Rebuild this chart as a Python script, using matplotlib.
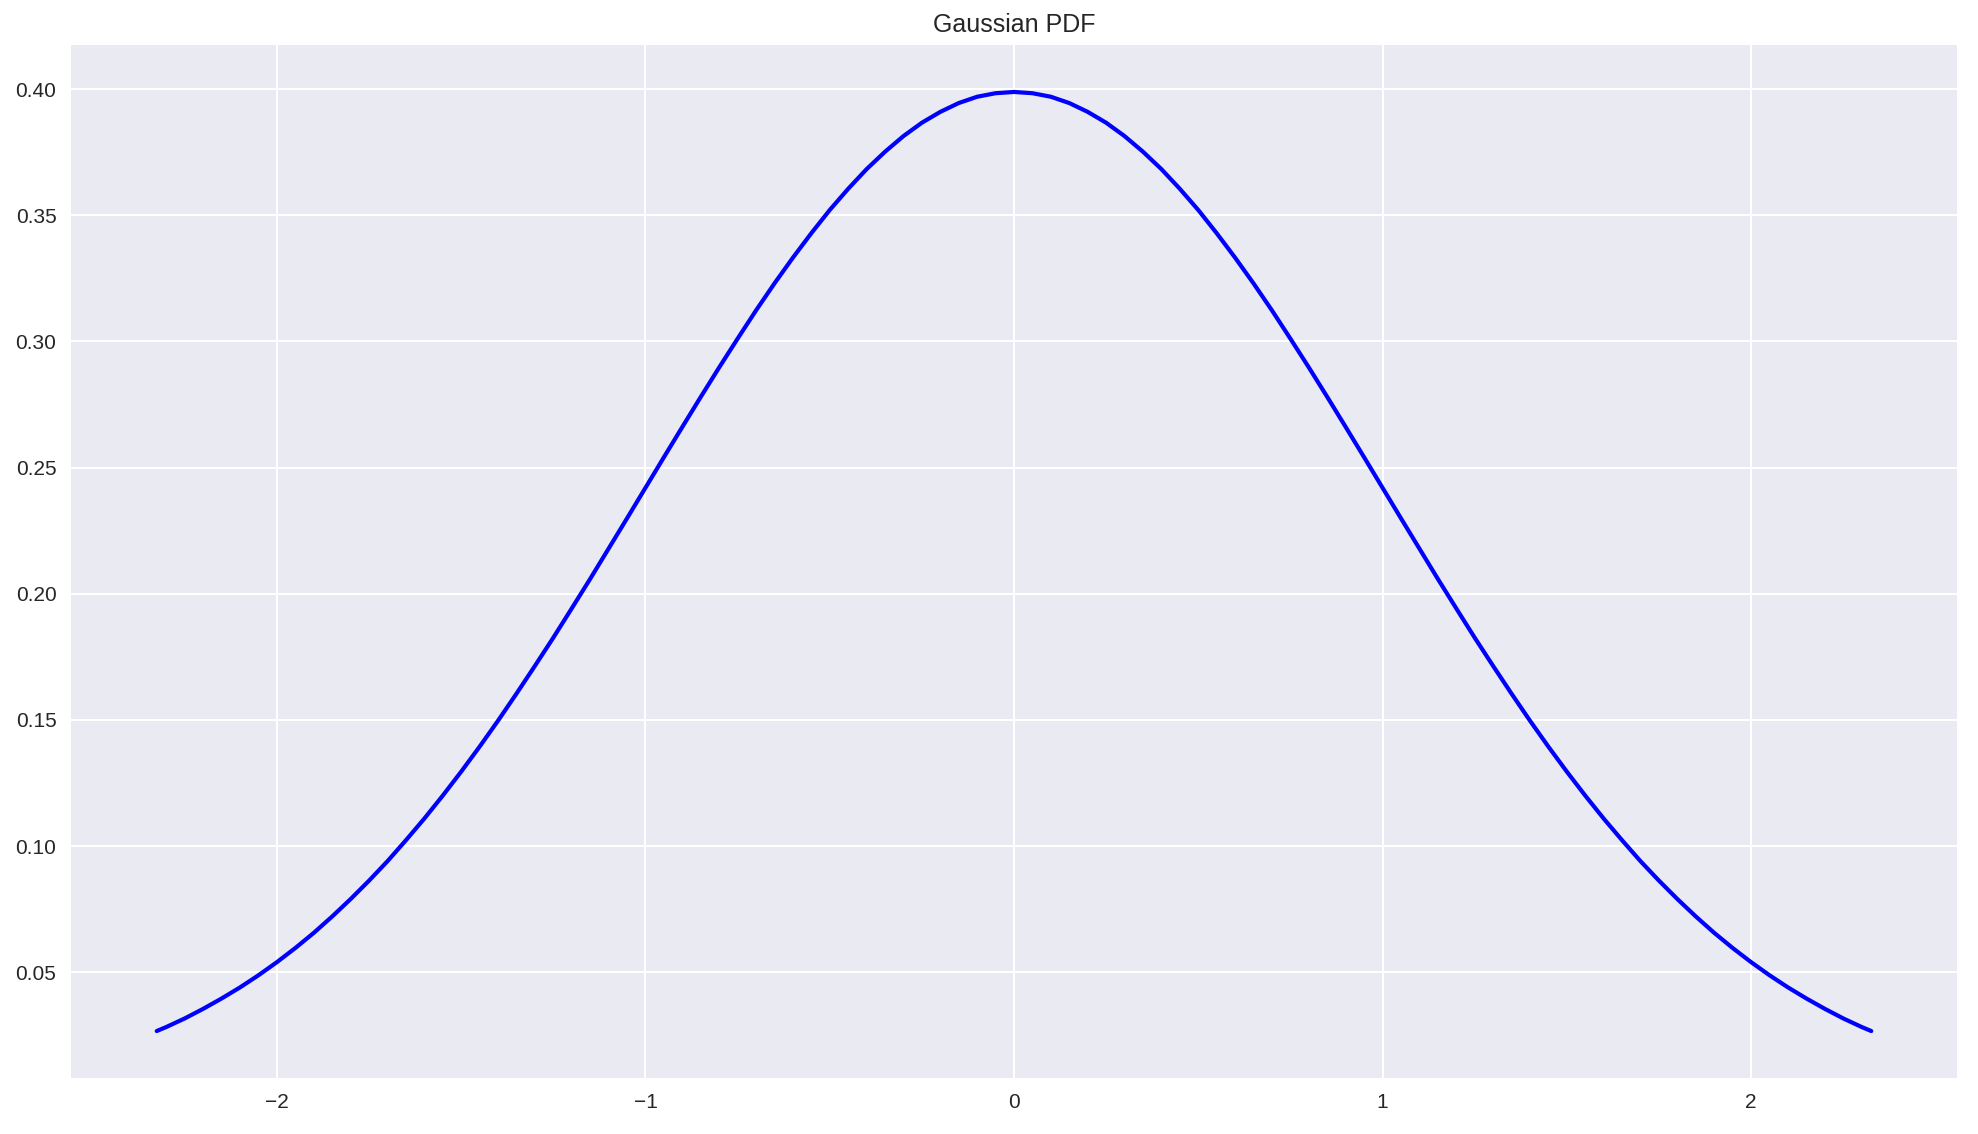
import matplotlib
matplotlib.use("Agg")
import matplotlib.pyplot as plt

# values (symmetric bell, ends near +/-2.33)
x_vals = [
    -2.326, -2.30, -2.25, -2.20, -2.15, -2.10, -2.05, -2.00, -1.95, -1.90,
    -1.85, -1.80, -1.75, -1.70, -1.65, -1.60, -1.55, -1.50, -1.45, -1.40,
    -1.35, -1.30, -1.25, -1.20, -1.15, -1.10, -1.05, -1.00, -0.95, -0.90,
    -0.85, -0.80, -0.75, -0.70, -0.65, -0.60, -0.55, -0.50, -0.45, -0.40,
    -0.35, -0.30, -0.25, -0.20, -0.15, -0.10, -0.05, 0.00,
    0.05, 0.10, 0.15, 0.20, 0.25, 0.30, 0.35, 0.40, 0.45, 0.50,
    0.55, 0.60, 0.65, 0.70, 0.75, 0.80, 0.85, 0.90, 0.95, 1.00,
    1.05, 1.10, 1.15, 1.20, 1.25, 1.30, 1.35, 1.40, 1.45, 1.50,
    1.55, 1.60, 1.65, 1.70, 1.75, 1.80, 1.85, 1.90, 1.95, 2.00,
    2.05, 2.10, 2.15, 2.20, 2.25, 2.30, 2.326,
]
pdf_vals = [
    0.0267, 0.0283, 0.0317, 0.0355, 0.0396, 0.0440, 0.0488, 0.0540, 0.0596, 0.0656,
    0.0721, 0.0790, 0.0863, 0.0940, 0.1023, 0.1109, 0.1200, 0.1295, 0.1394, 0.1497,
    0.1604, 0.1714, 0.1826, 0.1942, 0.2059, 0.2179, 0.2299, 0.2420, 0.2541, 0.2661,
    0.2780, 0.2897, 0.3011, 0.3123, 0.3230, 0.3332, 0.3429, 0.3521, 0.3605, 0.3683,
    0.3752, 0.3814, 0.3867, 0.3910, 0.3945, 0.3970, 0.3984, 0.3989,
    0.3984, 0.3970, 0.3945, 0.3910, 0.3867, 0.3814, 0.3752, 0.3683, 0.3605, 0.3521,
    0.3429, 0.3332, 0.3230, 0.3123, 0.3011, 0.2897, 0.2780, 0.2661, 0.2541, 0.2420,
    0.2299, 0.2179, 0.2059, 0.1942, 0.1826, 0.1714, 0.1604, 0.1497, 0.1394, 0.1295,
    0.1200, 0.1109, 0.1023, 0.0940, 0.0863, 0.0790, 0.0721, 0.0656, 0.0596, 0.0540,
    0.0488, 0.0440, 0.0396, 0.0355, 0.0317, 0.0283, 0.0267,
]

plt.style.use("seaborn-v0_8")
plt.rcParams["font.family"] = ["Liberation Sans", "DejaVu Sans"]

DPI = 150
fig = plt.figure(figsize=(1978 / DPI, 1134 / DPI), dpi=DPI)
ax = fig.add_axes([71 / 1978, 56 / 1134, 1886 / 1978, 1033 / 1134])

ax.plot(x_vals, pdf_vals, color="blue", linewidth=2)
ax.set_title("Gaussian PDF")

fig.savefig("out.png", dpi=DPI)
